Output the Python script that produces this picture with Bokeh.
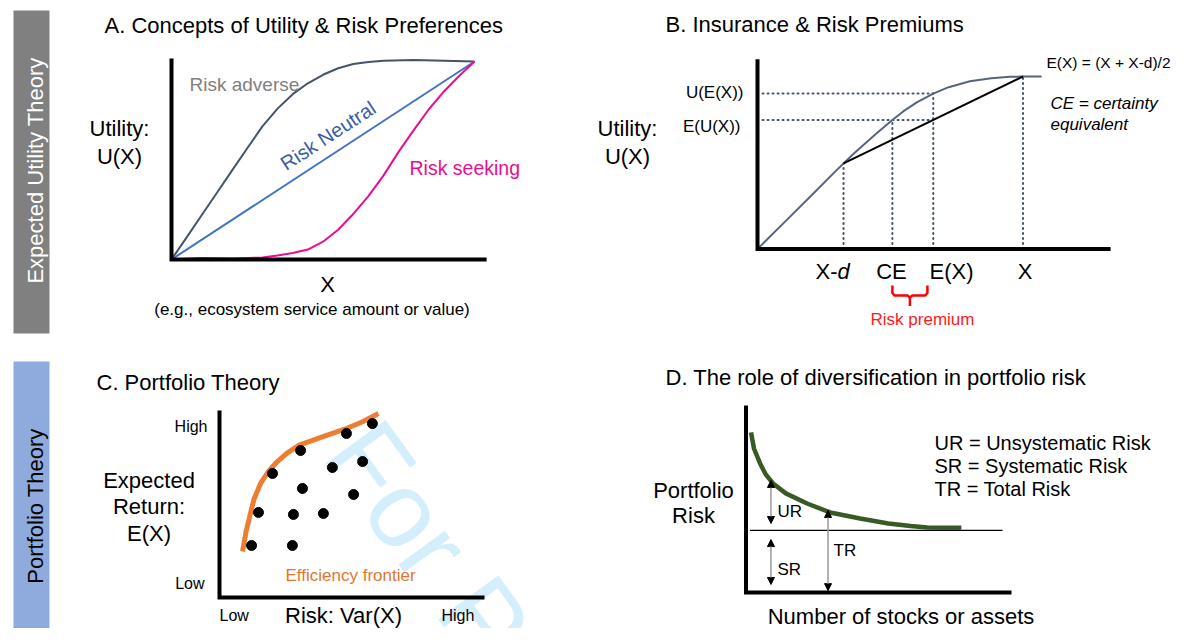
import numpy as np
from bokeh.plotting import figure
from bokeh.models import Range1d, Arrow, NormalHead
from bokeh.core.properties import value
from bokeh.embed import file_html
from bokeh.resources import INLINE

FONT = "Liberation Sans"

# ---------------- data ----------------
# Panel A: utility curves (X 0..10, U 0..10)
a_adverse_x = [0, 0.5, 1.0, 1.5, 2.0, 2.5, 3.0, 3.5, 4.0, 4.5, 5.0, 5.5, 6.0, 6.5, 7.0, 8.0, 9.0, 10.0]
a_adverse_u = [0, 1.12, 2.25, 3.37, 4.5, 5.62, 6.72, 7.62, 8.35, 8.9, 9.33, 9.66, 9.87, 9.98, 10.04, 10.08, 10.04, 10.0]
a_neutral_x = [0, 10]
a_neutral_u = [0, 10]
a_seeking_x = [0, 1, 2, 3, 3.5, 4, 4.5, 5, 5.5, 6, 6.5, 7, 7.5, 8, 8.5, 9, 9.5, 10]
a_seeking_u = [0, 0.08, 0.05, 0.1, 0.2, 0.33, 0.5, 0.9, 1.5, 2.3, 3.2, 4.25, 5.45, 6.55, 7.6, 8.5, 9.28, 10.0]

# Panel B: insurance & risk premium
b_curve_x = [0, 1, 2, 3, 3.24, 3.6, 4.0, 4.5, 5.08, 5.5, 6.0, 6.62, 7.2, 8.0, 8.8, 9.5, 10.0, 10.7]
b_curve_u = [0, 1.53, 3.06, 4.6, 4.96, 5.49, 6.05, 6.72, 7.48, 7.99, 8.5, 9.01, 9.38, 9.72, 9.9, 9.98, 10.0, 10.0]
b_x_minus_d = 3.24
b_x_full = 10.0
b_e_x = (b_x_full + b_x_minus_d) / 2
b_ce = 5.08
b_u_xd = 4.96
b_u_x = 10.0
b_u_ex = 9.01
b_e_u = (b_u_x + b_u_xd) / 2

# Panel C: portfolio theory (risk 0..10, return 0..10)
c_frontier_risk = [0.87, 1.0, 1.13, 1.3, 1.55, 1.85, 2.15, 2.55, 2.98, 3.8, 4.72, 5.4, 6.0]
c_frontier_ret = [2.46, 3.5, 4.28, 5.25, 6.1, 6.75, 7.22, 7.72, 8.13, 8.55, 9.0, 9.4, 9.84]
c_dot_risk = [1.21, 2.75, 1.47, 2.79, 3.92, 3.13, 5.06, 2.0, 4.26, 5.4, 3.06, 4.79, 5.77]
c_dot_ret = [2.78, 2.78, 4.55, 4.44, 4.49, 5.83, 5.51, 6.63, 6.95, 7.27, 7.86, 8.77, 9.30]

# Panel D: diversification (stocks 0..10, risk 0..10)
d_stocks = [0.19, 0.3, 0.53, 0.75, 1.02, 1.5, 2.3, 3.17, 4.3, 5.36, 6.2, 6.83, 7.5, 8.11]
d_risk = [8.56, 7.7, 6.9, 6.3, 5.83, 5.3, 4.76, 4.28, 3.96, 3.69, 3.56, 3.48, 3.46, 3.46]
d_systematic = 3.32

# ---------------- layout helpers ----------------
W, H = 1173, 628


def xr(v0, p0, v1, p1):
    s = (p1 - p0) / (v1 - v0)
    start = v0 - p0 / s
    return Range1d(start, start + W / s)


def yr(v0, p0, v1, p1):
    s = (p0 - p1) / (v1 - v0)
    start = v0 - (H - p0) / s
    return Range1d(start, start + H / s)


p = figure(width=W, height=H, x_range=Range1d(0, W), y_range=Range1d(H, 0),
           x_axis_type=None, y_axis_type=None, output_backend="svg", toolbar_location=None,
           min_border=0, min_border_left=0, min_border_right=0, min_border_top=0, min_border_bottom=0)
p.grid.visible = False
p.outline_line_color = None
p.background_fill_color = "white"

p.extra_x_ranges = {"A": xr(0, 171, 10, 474), "B": xr(0, 757, 10, 1022.5),
                    "C": xr(0, 219, 10, 484), "D": xr(0, 745.5, 10, 1011)}
p.extra_y_ranges = {"A": yr(0, 259, 10, 61), "B": yr(0, 248.5, 10, 76),
                    "C": yr(0, 597, 10, 410), "D": yr(0, 592, 10, 405)}


def R(name):
    return dict(x_range_name=name, y_range_name=name)


def txt(x, y, s, size, color="black", align="left", angle=0, style="normal"):
    p.text(x=[x], y=[y], text=[s], text_font=value(FONT),
           text_font_size=value(f"{size}px"),
           text_color=color, text_align=align, text_baseline="middle", angle=angle,
           angle_units="deg", text_font_style=style)


# ---------------- watermark ----------------
txt(350, 434, "For Peer Review", 108, color="#d4eefb", angle=-54)

# ---------------- side bars ----------------
p.quad(left=[13], right=[49], top=[10], bottom=[333], fill_color="#808080", line_color=None)
p.quad(left=[13], right=[49], top=[361], bottom=[660], fill_color="#8faadc", line_color=None)
txt(34.5, 170, "Expected Utility Theory", 22, color="white", align="center", angle=90)
txt(34.5, 505.5, "Portfolio Theory", 22, color="black", align="center", angle=90)

# ---------------- Panel A ----------------
txt(104, 25, "A. Concepts of Utility & Risk Preferences", 22)
p.line(a_adverse_x, a_adverse_u, line_color="#44546a", line_width=2, **R("A"))
p.line(a_neutral_x, a_neutral_u, line_color="#4472c4", line_width=2, **R("A"))
p.line(a_seeking_x, a_seeking_u, line_color="#ec0c8c", line_width=2, **R("A"))
p.line([0, 0, 10.4], [10.15, 0, 0], line_color="black", line_width=4, line_join="miter", **R("A"))
txt(189, 84, "Risk adverse", 19, color="#7f7f7f")
txt(282, 165, "Risk Neutral", 20, color="#3a5ea6", angle=33.2)
txt(409, 167.5, "Risk seeking", 19.5, color="#ec0c8c")
txt(119, 128, "Utility:", 22, align="center")
txt(119, 155.5, "U(X)", 22, align="center")
txt(327, 284, "X", 22, align="center")
txt(311.5, 309, "(e.g., ecosystem service amount or value)", 17, align="center")

# ---------------- Panel B ----------------
txt(665, 24, "B. Insurance & Risk Premiums", 22)
dot = dict(line_color="#44546a", line_width=2, line_dash="1 4", line_cap="round")
p.line([0.19, b_e_x], [b_u_ex, b_u_ex], **dot, **R("B"))
p.line([0.19, b_e_x], [b_e_u, b_e_u], **dot, **R("B"))
for vx, vy in [(b_x_minus_d, b_u_xd), (b_ce, b_e_u), (b_e_x, b_u_ex), (b_x_full, b_u_x)]:
    p.line([vx, vx], [0, vy], **dot, **R("B"))
p.line(b_curve_x, b_curve_u, line_color="#56657d", line_width=2, **R("B"))
p.line([b_x_minus_d, b_x_full], [b_u_xd, b_u_x], line_color="black", line_width=2, **R("B"))
p.line([0, 0, 13.3], [11.0, 0, 0], line_color="black", line_width=4, line_join="miter", **R("B"))
txt(627, 128, "Utility:", 22, align="center")
txt(627, 155.5, "U(X)", 22, align="center")
txt(743, 92, "U(E(X))", 17, align="right")
txt(740, 126, "E(U(X))", 17, align="right")
txt(1046, 62, "E(X) = (X + X-d)/2", 15.5)
txt(1050, 103, "CE = certainty", 17, style="italic")
txt(1050, 124, "equivalent", 17, style="italic")
txt(815, 270.5, "X-", 22)
txt(837, 270.5, "d", 22, style="italic")
txt(891, 270.5, "CE", 22, align="center")
txt(951, 270.5, "E(X)", 22, align="center")
txt(1024.5, 270.5, "X", 22, align="center")
bx0, bx1 = b_ce, b_e_x - 0.22
bm = (bx0 + bx1) / 2
p.multi_line([[bx0, bx0, bx0 + 0.08, bm - 0.08, bm, bm],
              [bm, bm + 0.08, bx1 - 0.08, bx1, bx1]],
             [[-2.12, -2.55, -2.7, -2.7, -2.82, -3.3],
              [-2.82, -2.7, -2.7, -2.55, -2.12]],
             line_color="#ff0000", line_width=2.5, **R("B"))
txt(922, 319, "Risk premium", 17, color="#ff1a1a", align="center")

# ---------------- Panel C ----------------
txt(96, 381.5, "C. Portfolio Theory", 22)
p.line([0, 0, 10], [10, 0, 0], line_color="black", line_width=4, line_join="miter", **R("C"))
p.line(c_frontier_risk, c_frontier_ret, line_color="#ed7d31", line_width=5, **R("C"))
p.scatter(c_dot_risk, c_dot_ret, size=10, fill_color="black", line_color="black", **R("C"))
txt(207, 426, "High", 16, align="right")
txt(204, 582.5, "Low", 16, align="right")
txt(148.5, 480, "Expected", 22, align="center")
txt(148.5, 505.5, "Return:", 22, align="center")
txt(148.5, 532.5, "E(X)", 22, align="center")
txt(219, 615, "Low", 16)
txt(441, 615, "High", 16)
txt(343, 615, "Risk: Var(X)", 22, align="center")
txt(285, 575, "Efficiency frontier", 17, color="#e2762f")

# ---------------- Panel D ----------------
txt(665, 377, "D. The role of diversification in portfolio risk", 22)
p.line([0.15, 9.66], [d_systematic, d_systematic], line_color="black", line_width=1.2, **R("D"))
p.line(d_stocks, d_risk, line_color="#3a5a24", line_width=4.5, **R("D"))
p.line([0, 0, 10], [10, 0, 0], line_color="black", line_width=4, line_join="miter", **R("D"))
for xs, ys, ye in [(0.94, 3.69, 5.99), (0.94, 0.43, 2.83), (3.09, 0.1, 4.39)]:
    p.add_layout(Arrow(x_start=xs, y_start=ys, x_end=xs, y_end=ye,
                       start=NormalHead(size=7, fill_color="black", line_color="black"),
                       end=NormalHead(size=7, fill_color="black", line_color="black"),
                       line_color="#9a9a9a", line_width=1.5, **R("D")))
txt(777, 511, "UR", 17)
txt(777, 568.5, "SR", 17)
txt(833, 550, "TR", 17)
txt(693, 489.5, "Portfolio", 22, align="center")
txt(693, 515, "Risk", 22, align="center")
txt(934, 442, "UR = Unsystematic Risk", 20)
txt(934, 465, "SR = Systematic Risk", 20)
txt(934, 488, "TR = Total Risk", 20)
txt(900.5, 616, "Number of stocks or assets", 22, align="center")

open("out.html", "w").write(file_html(p, INLINE))
